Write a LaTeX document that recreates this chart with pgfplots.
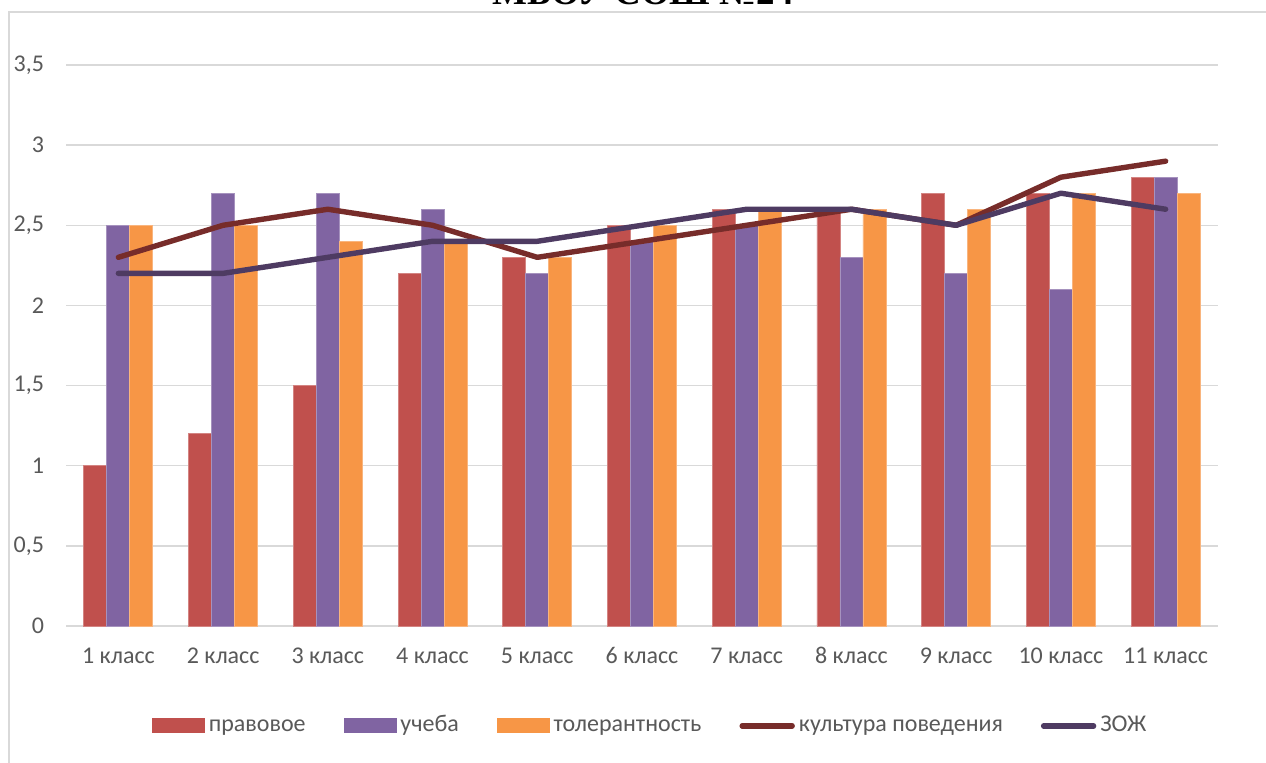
\documentclass[border=0pt]{standalone}
\usepackage{pgfplots}
\pgfplotsset{compat=1.18}
\usepackage{fontspec}
\setmainfont{Carlito}
\newfontfamily\titlefont{Liberation Serif}
\definecolor{cPrav}{HTML}{C0504D}
\definecolor{cUch}{HTML}{8064A2}
\definecolor{cTol}{HTML}{F79646}
\definecolor{cKult}{HTML}{772C2A}
\definecolor{cZoj}{HTML}{4E3B62}
\definecolor{cGrid}{HTML}{D9D9D9}
\definecolor{cText}{HTML}{595959}
\begin{document}
\begin{tikzpicture}
\begin{axis}[
  at={(33pt,68.5pt)}, anchor=south west,
  scale only axis, width=576pt, height=280.5pt,
  xmin=-0.5, xmax=10.5, ymin=0, ymax=3.5,
  axis line style={draw=none},
  major tick length=0pt,
  ymajorgrids, major grid style={draw=cGrid, line width=0.75pt},
  ytick={0,0.5,1,1.5,2,2.5,3,3.5},
  yticklabels={0,{0,5},1,{1,5},2,{2,5},3,{3,5}},
  xtick={0,1,2,3,4,5,6,7,8,9,10},
  xticklabels={1 класс,2 класс,3 класс,4 класс,5 класс,6 класс,7 класс,8 класс,9 класс,10 класс,11 класс},
  ticklabel style={font=\fontsize{12}{14}\selectfont, text=cText},
  yticklabel style={xshift=-7.5pt},
  xticklabel style={yshift=-7pt, text height=8pt, text depth=2.5pt},
  legend columns=5,
  legend style={at={(0.508,-0.178)}, anchor=center, draw=none,
    font=\fontsize{12}{14}\selectfont, text=cText,
    /tikz/every even column/.append style={column sep=17pt},
    nodes={inner xsep=2pt, text height=8pt, text depth=2.5pt}},
  clip=false,
]
\addplot[ybar, bar width=11.5pt, bar shift=-11.5pt, fill=cPrav, draw=cPrav!70!white, line width=0.4pt,
  legend image code/.code={\fill[cPrav] (0pt,-3.5pt) rectangle (26pt,3.5pt);}]
  coordinates {(0,1.0) (1,1.2) (2,1.5) (3,2.2) (4,2.3) (5,2.5) (6,2.6) (7,2.6) (8,2.7) (9,2.7) (10,2.8)};
\addlegendentry{правовое}
\addplot[ybar, bar width=11.5pt, bar shift=0pt, fill=cUch, draw=cUch!70!white, line width=0.4pt,
  legend image code/.code={\fill[cUch] (0pt,-3.5pt) rectangle (26pt,3.5pt);}]
  coordinates {(0,2.5) (1,2.7) (2,2.7) (3,2.6) (4,2.2) (5,2.4) (6,2.5) (7,2.3) (8,2.2) (9,2.1) (10,2.8)};
\addlegendentry{учеба}
\addplot[ybar, bar width=11.5pt, bar shift=11.5pt, fill=cTol, draw=cTol!70!white, line width=0.4pt,
  legend image code/.code={\fill[cTol] (0pt,-3.5pt) rectangle (26pt,3.5pt);}]
  coordinates {(0,2.5) (1,2.5) (2,2.4) (3,2.4) (4,2.3) (5,2.5) (6,2.6) (7,2.6) (8,2.6) (9,2.7) (10,2.7)};
\addlegendentry{толерантность}
\addplot[sharp plot, cKult, line width=2.7pt, line cap=round, line join=round, mark=none,
  legend image code/.code={\draw[cKult, line width=2.7pt, line cap=round] (1.5pt,0pt) -- (26.5pt,0pt);}]
  coordinates {(0,2.3) (1,2.5) (2,2.6) (3,2.5) (4,2.3) (5,2.4) (6,2.5) (7,2.6) (8,2.5) (9,2.8) (10,2.9)};
\addlegendentry{культура поведения}
\addplot[sharp plot, cZoj, line width=2.7pt, line cap=round, line join=round, mark=none,
  legend image code/.code={\draw[cZoj, line width=2.7pt, line cap=round] (1.5pt,0pt) -- (26.5pt,0pt);}]
  coordinates {(0,2.2) (1,2.2) (2,2.3) (3,2.4) (4,2.4) (5,2.5) (6,2.6) (7,2.6) (8,2.5) (9,2.7) (10,2.6)};
\addlegendentry{ЗОЖ}
\end{axis}
\draw[cGrid, line width=0.75pt] (4.5pt,-20pt) -- (4.5pt,375.5pt) -- (660pt,375.5pt);
\node[anchor=base, inner sep=0pt, font=\titlefont\bfseries\fontsize{18.5}{20}\selectfont] at (321.5pt,379pt) {МБОУ СОШ №24};
\pgfresetboundingbox
\useasboundingbox (0,0) rectangle (633pt,381.5pt);
\end{tikzpicture}
\end{document}
